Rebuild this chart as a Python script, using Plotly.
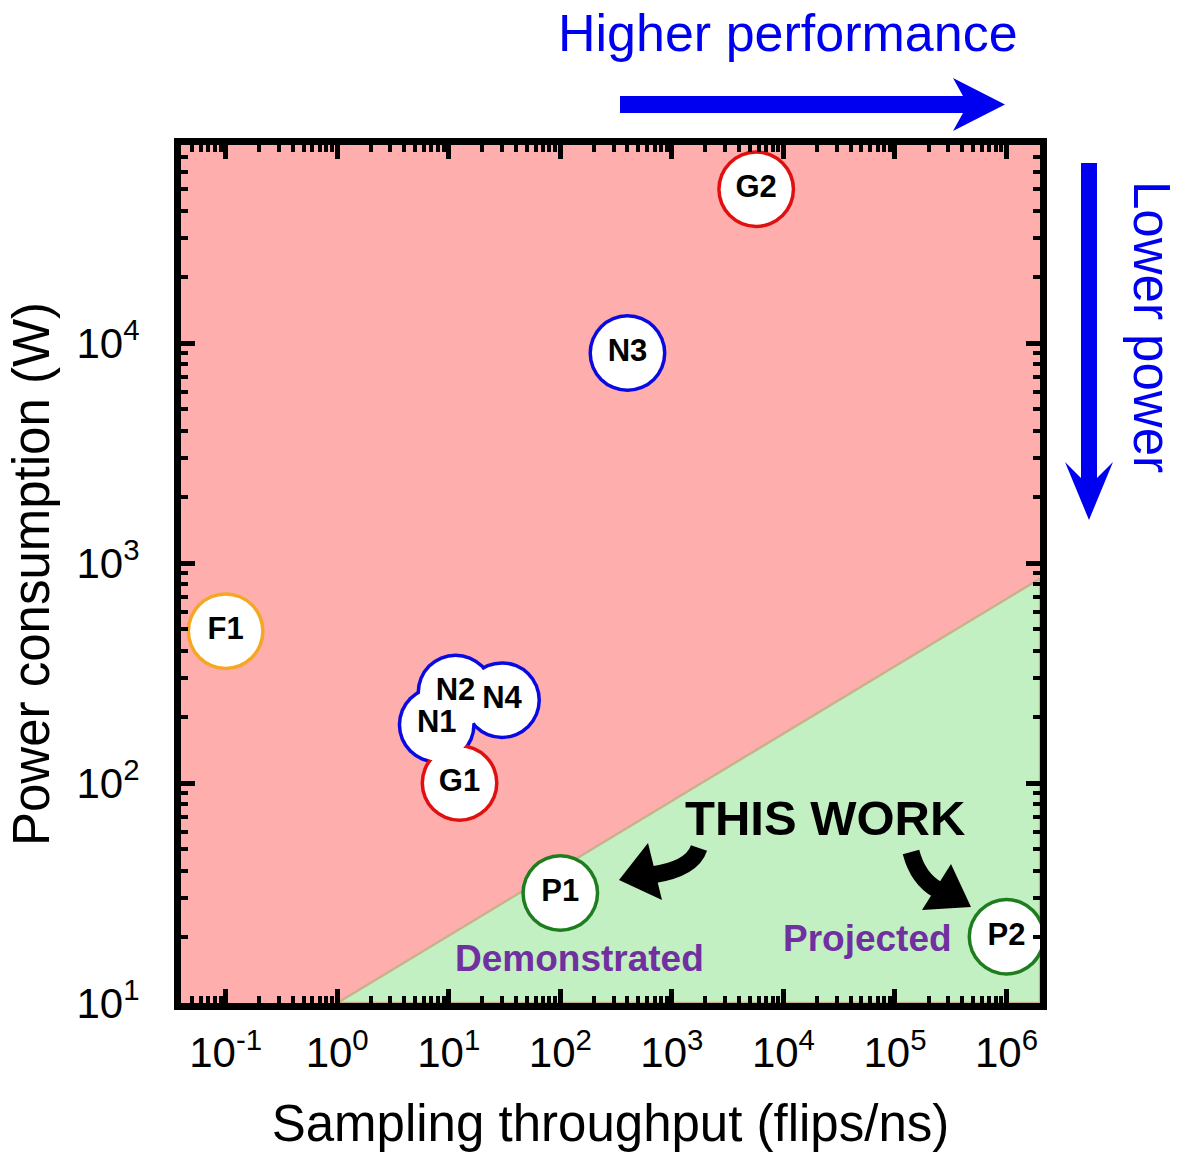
import plotly.graph_objects as go

# ---------------- data ----------------
labels = ["G2", "N3", "F1", "N2", "N4", "N1", "G1", "P1", "P2"]
throughput = [5700, 400, 0.1, 11.5, 30, 7.8, 12.5, 100, 1.0e6]      # flips/ns
power = [50000, 9000, 490, 258, 238, 184, 100, 31.6, 20]             # W
ring_colors = ["#E01010", "#0A0AE0", "#F5A623", "#0A0AE0", "#0A0AE0",
               "#0A0AE0", "#E01010", "#1E7D1E", "#1E7D1E"]

# green "this work" region (triangle under the boundary line)
region_x = [1, 2.0e6, 2.0e6, 1]
region_y = [10, 850, 10, 10]

x_tickvals = [0.1, 1, 10, 100, 1e3, 1e4, 1e5, 1e6]
x_ticktext = ["10<sup>-1</sup>", "10<sup>0</sup>", "10<sup>1</sup>", "10<sup>2</sup>",
              "10<sup>3</sup>", "10<sup>4</sup>", "10<sup>5</sup>", "10<sup>6</sup>"]
y_tickvals = [10, 100, 1e3, 1e4]
y_ticktext = ["10<sup>1</sup>", "10<sup>2</sup>", "10<sup>3</sup>", "10<sup>4</sup>"]

minor_vals = [m * 10.0 ** e for e in range(-2, 7) for m in range(2, 10)]

FONT = "Liberation Sans, Arial, sans-serif"

# ---------------- layout geometry (screen pixels) ----------------
W_FIG, H_FIG = 1186, 1152
L, R, T, B = 181, 1040, 145, 1003   # plot area on screen
PW, PH = R - L, B - T


def px(x):
    return (x - L) / PW


def py(y):
    return (B - y) / PH


def path(points, close=True):
    s = "M" + " L".join(f"{px(x):.5f},{py(y):.5f}" for x, y in points)
    return s + (" Z" if close else "")


def qpath(p0, c, p1):
    return (f"M{px(p0[0]):.5f},{py(p0[1]):.5f} Q{px(c[0]):.5f},{py(c[1]):.5f} "
            f"{px(p1[0]):.5f},{py(p1[1]):.5f}")


fig = go.Figure()

# green region
fig.add_trace(go.Scatter(
    x=region_x, y=region_y, mode="lines", fill="toself",
    fillcolor="#C3F0C3", line=dict(color="#C8B28C", width=2.5),
    hoverinfo="skip", showlegend=False))

# coloured rings (drawn as discs, white discs on top give the union outlines)
fig.add_trace(go.Scatter(
    x=throughput, y=power, mode="markers",
    marker=dict(size=78, color=ring_colors, line=dict(width=0)),
    hoverinfo="skip", showlegend=False))
fig.add_trace(go.Scatter(
    x=throughput, y=power, mode="markers",
    marker=dict(size=71, color="white", line=dict(width=0)),
    hoverinfo="skip", showlegend=False))
fig.add_trace(go.Scatter(
    x=throughput, y=power, mode="text", text=labels,
    textposition="middle center",
    textfont=dict(family=FONT, size=31, color="black", weight="bold"),
    showlegend=False))

axis_common = dict(
    type="log", showgrid=False, zeroline=False,
    showline=True, linewidth=7, linecolor="black", mirror="allticks",
    ticks="inside", ticklen=14, tickwidth=5, tickcolor="black",
    tickmode="array",
    tickfont=dict(family=FONT, size=42, color="black"),
    minor=dict(tickmode="array", tickvals=minor_vals, ticks="inside",
               ticklen=7, tickwidth=4, tickcolor="black"),
    automargin=False,
)

fig.update_xaxes(
    **axis_common, range=[-1.4, 6.3],
    tickvals=x_tickvals, ticktext=x_ticktext, ticklabelstandoff=7,
    title=dict(text="Sampling throughput (flips/ns)",
               font=dict(family=FONT, size=51, color="black"), standoff=33))
fig.update_yaxes(
    **axis_common, range=[1, 4.9],
    tickvals=y_tickvals, ticktext=y_ticktext, ticklabelstandoff=26,
    title=dict(text="Power consumption (W)",
               font=dict(family=FONT, size=51, color="black"), standoff=13))

BLUE = "#0000F0"
shapes = [
    # Higher performance arrow
    dict(type="path", xref="paper", yref="paper", layer="above",
         path=path([(620, 96), (963, 96), (953, 78), (1005, 104.5),
                    (953, 131), (963, 113), (620, 113)]),
         fillcolor=BLUE, line=dict(width=0)),
    # Lower power arrow
    dict(type="path", xref="paper", yref="paper", layer="above",
         path=path([(1081, 163), (1097, 163), (1097, 478), (1113, 462),
                    (1089, 520), (1065, 462), (1081, 478)]),
         fillcolor=BLUE, line=dict(width=0)),
    # THIS WORK -> Demonstrated
    dict(type="path", xref="paper", yref="paper", layer="above",
         path=qpath((699, 848), (692, 869), (652, 875)),
         line=dict(color="black", width=17), fillcolor="rgba(0,0,0,0)"),
    dict(type="path", xref="paper", yref="paper", layer="above",
         path=path([(619, 880), (648, 843), (662, 900)]),
         fillcolor="black", line=dict(width=0)),
    # THIS WORK -> Projected
    dict(type="path", xref="paper", yref="paper", layer="above",
         path=qpath((911, 852), (918, 879), (938, 890)),
         line=dict(color="black", width=17), fillcolor="rgba(0,0,0,0)"),
    dict(type="path", xref="paper", yref="paper", layer="above",
         path=path([(971, 907), (922, 910), (951, 864)]),
         fillcolor="black", line=dict(width=0)),
]

annotations = [
    dict(text="Higher performance", x=px(788), y=py(33), xref="paper", yref="paper",
         showarrow=False, font=dict(family=FONT, size=52, color=BLUE),
         xanchor="center", yanchor="middle"),
    dict(text="Lower power", x=px(1152), y=py(327), xref="paper", yref="paper",
         showarrow=False, textangle=90, font=dict(family=FONT, size=51, color=BLUE),
         xanchor="center", yanchor="middle"),
    dict(text="<b>THIS WORK</b>", x=px(825), y=py(818), xref="paper", yref="paper",
         showarrow=False, font=dict(family=FONT, size=49, color="black"),
         xanchor="center", yanchor="middle"),
    dict(text="<b>Demonstrated</b>", x=px(579), y=py(958), xref="paper", yref="paper",
         showarrow=False, font=dict(family=FONT, size=37, color="#7030A0"),
         xanchor="center", yanchor="middle"),
    dict(text="<b>Projected</b>", x=px(867), y=py(938), xref="paper", yref="paper",
         showarrow=False, font=dict(family=FONT, size=37, color="#7030A0"),
         xanchor="center", yanchor="middle"),
]

fig.update_layout(
    width=W_FIG, height=H_FIG,
    margin=dict(l=L, r=W_FIG - R, t=T, b=H_FIG - B, pad=0),
    paper_bgcolor="white", plot_bgcolor="#FFAEAE",
    shapes=shapes, annotations=annotations, showlegend=False,
    font=dict(family=FONT),
)

# remove the default 8px page margin so the figure sits at the window origin
fig.write_html("out.html",
               config={"displayModeBar": False},
               post_script="document.body.style.margin='0';"
                           "document.body.style.overflow='hidden';")
